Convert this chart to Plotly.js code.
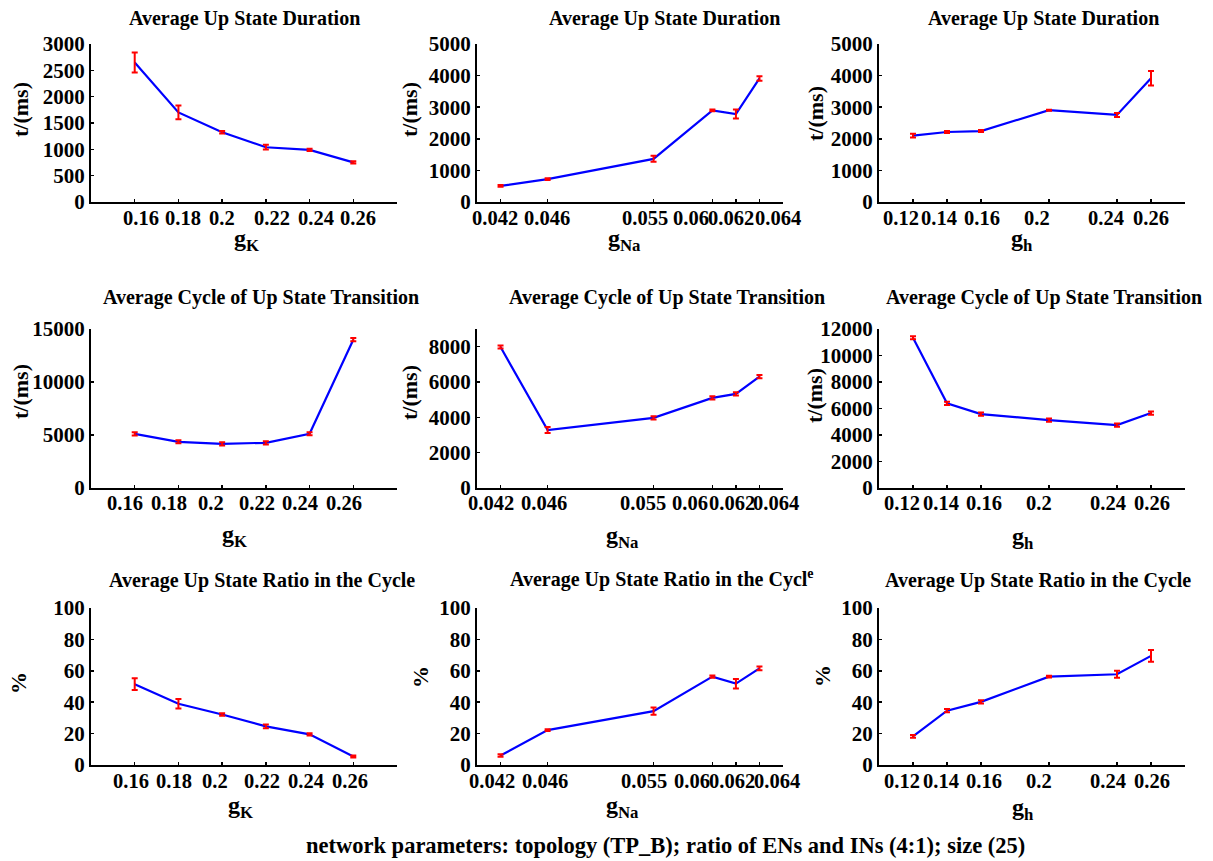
<!DOCTYPE html>
<html>
<head>
<meta charset="utf-8">
<script src="https://cdn.plot.ly/plotly-3.0.1.min.js"></script>
<style>
  html, body { margin: 0; padding: 0; background: #ffffff; }
  #chart { width: 1213px; height: 861px; }
</style>
</head>
<body>
<div id="chart"></div>
<script>
// ---- Parameter values (x categories) ----
const gK = [0.16, 0.18, 0.2, 0.22, 0.24, 0.26];
const gKLabels = ['0.16', '0.18', '0.2', '0.22', '0.24', '0.26'];
const gNa = [0.042, 0.046, 0.055, 0.06, 0.062, 0.064];
const gNaLabels = ['0.042', '0.046', '0.055', '0.06', '0.062', '0.064'];
const gh = [0.12, 0.14, 0.16, 0.2, 0.24, 0.26];
const ghLabels = ['0.12', '0.14', '0.16', '0.2', '0.24', '0.26'];

// ---- Average Up State Duration (ms) ----
const durK = [2650, 1700, 1325, 1040, 990, 752];
const durKErr = [190, 130, 25, 45, 20, 20];
const durNa = [510, 725, 1365, 2900, 2785, 3910];
const durNaErr = [25, 30, 95, 25, 140, 70];
const durH = [2100, 2215, 2245, 2905, 2755, 3915];
const durHErr = [60, 35, 30, 15, 65, 230];

// ---- Average Cycle of Up State Transition (ms) ----
const cycK = [5100, 4360, 4170, 4265, 5120, 13990];
const cycKErr = [150, 150, 150, 150, 150, 150];
const cycNa = [7980, 3280, 3970, 5100, 5330, 6300];
const cycNaErr = [90, 170, 90, 90, 90, 90];
const cycH = [11340, 6390, 5580, 5125, 4746, 5656];
const cycHErr = [120, 120, 120, 120, 120, 120];

// ---- Average Up State Ratio in the Cycle (%) ----
const ratK = [51.5, 39, 32.2, 24.6, 19.5, 5.4];
const ratKErr = [3.8, 3, 0.8, 1.2, 0.7, 0.7];
const ratNa = [6, 22.2, 34.3, 56.3, 51.8, 61.5];
const ratNaErr = [0.8, 0.6, 2.3, 0.7, 3, 1.2];
const ratH = [18.2, 34.6, 40.2, 56.3, 57.8, 69.5];
const ratHErr = [0.9, 1, 1, 0.6, 2.2, 3.8];

const W = 1213, H = 861;
const px = v => v / W;
const py = v => 1 - v / H;
const FONT = 'Liberation Serif, Times New Roman, serif';

const panels = [
  {x: gK, y: durK, e: durKErr},
  {x: gNa, y: durNa, e: durNaErr},
  {x: gh, y: durH, e: durHErr},
  {x: gK, y: cycK, e: cycKErr},
  {x: gNa, y: cycNa, e: cycNaErr},
  {x: gh, y: cycH, e: cycHErr},
  {x: gK, y: ratK, e: ratKErr},
  {x: gNa, y: ratNa, e: ratNaErr},
  {x: gh, y: ratH, e: ratHErr}
];

const traces = [];
panels.forEach((p, i) => {
  const sfx = i === 0 ? '' : String(i + 1);
  traces.push({
    x: p.x, y: p.y, type: 'scatter', mode: 'lines',
    xaxis: 'x' + sfx, yaxis: 'y' + sfx,
    line: {color: '#0000ff', width: 2.2},
    showlegend: false, hoverinfo: 'skip'
  });
  traces.push({
    x: p.x, y: p.y, type: 'scatter', mode: 'markers',
    xaxis: 'x' + sfx, yaxis: 'y' + sfx,
    marker: {size: 1, color: 'rgba(0,0,0,0)'},
    error_y: {type: 'data', array: p.e, visible: true, color: '#ff0000', thickness: 2, width: 3},
    showlegend: false, hoverinfo: 'skip'
  });
});

// ---- layout geometry ----
const xDom = [[px(91), px(397)], [px(477), px(783)], [px(879), px(1185)]];
const yDom = [[py(202), py(44)], [py(488), py(329)], [py(765), py(608)]];
const xRanges = [[0.14, 0.28], [0.040, 0.066], [0.10, 0.28]];
const xTicks = [[gK, gKLabels], [gNa, gNaLabels], [gh, ghLabels]];
const yRanges = [[0, 3000], [0, 5000], [0, 5000], [0, 15000], [0, 9000], [0, 12000], [0, 100], [0, 100], [0, 100]];
const yDticks = [500, 1000, 1000, 5000, 2000, 2000, 20, 20, 20];
// pixel shifts of x tick labels relative to their tick marks (as in the original figure)
const labelShift = [
  [6, 5, 0, 6, 6, 5],
  [-6, -1, -9, -21, -5, 19],
  [-12, -8, 1, -12, -11, 0],
  [-10, -9, -11, -9, -10, -9],
  [-10, -4, -11, -22, -4, 17],
  [-11, -6, 3, -10, -9, 1],
  [-4, -4, -7, -4, -4, -3],
  [-9, -3, -10, -20, -4, 18],
  [-11, -6, 3, -10, -9, 1]
];
const labelRowY = [218, 503, 781];

const layout = {
  width: W, height: H,
  margin: {l: 0, r: 0, t: 0, b: 0},
  paper_bgcolor: '#ffffff', plot_bgcolor: '#ffffff',
  font: {family: FONT, size: 18, color: '#000000', weight: 'bold'},
  showlegend: false,
  annotations: []
};

for (let i = 0; i < 9; i++) {
  const sfx = i === 0 ? '' : String(i + 1);
  const col = i % 3, row = Math.floor(i / 3);
  layout['xaxis' + sfx] = {
    domain: xDom[col], range: xRanges[col], anchor: 'y' + sfx,
    tickmode: 'array', tickvals: xTicks[col][0], ticktext: xTicks[col][1],
    showticklabels: false,
    showline: true, linecolor: '#000000', linewidth: 2,
    ticks: 'inside', ticklen: 3, tickwidth: 1.5, tickcolor: '#000000',
    showgrid: false, zeroline: false, fixedrange: true
  };
  layout['yaxis' + sfx] = {
    domain: yDom[row], range: yRanges[i], anchor: 'x' + sfx,
    tickmode: 'linear', tick0: 0, dtick: yDticks[i],
    tickformat: 'd', exponentformat: 'none',
    showline: true, linecolor: '#000000', linewidth: 2,
    ticks: 'inside', ticklen: 3, tickwidth: 1.5, tickcolor: '#000000',
    showgrid: false, zeroline: false,
    tickfont: {family: FONT, size: 21, weight: 'bold', color: '#000000'}, fixedrange: true
  };
  // x tick labels, placed from the axis scale
  const vals = xTicks[col][0], labs = xTicks[col][1];
  vals.forEach((v, k) => {
    layout.annotations.push({
      text: labs[k], xref: 'x' + sfx, yref: 'paper', x: v, y: py(labelRowY[row]),
      xshift: labelShift[i][k],
      xanchor: 'center', yanchor: 'middle', showarrow: false,
      font: {size: 20.5, weight: 'bold', color: '#000000', family: FONT}
    });
  });
}

function ann(text, x, y, size, angle) {
  layout.annotations.push({
    text: text, xref: 'paper', yref: 'paper', x: px(x), y: py(y),
    xanchor: 'center', yanchor: 'middle', showarrow: false,
    textangle: angle || 0,
    font: {size: size, weight: 'bold', color: '#000000', family: FONT}
  });
}

// Panel titles
ann('Average Up State Duration', 244, 18, 20);
ann('Average Up State Duration', 664, 18, 20);
ann('Average Up State Duration', 1043, 18, 20);
ann('Average Cycle of Up State Transition', 261, 297, 20);
ann('Average Cycle of Up State Transition', 667, 297, 20);
ann('Average Cycle of Up State Transition', 1044, 297, 20);
ann('Average Up State Ratio in the Cycle', 262, 580, 20);
ann('Average Up State Ratio in the Cycl<sup>e</sup>', 662, 578, 20);
ann('Average Up State Ratio in the Cycle', 1038, 580, 20);

// x-axis titles
ann('g<sub>K</sub>', 246, 240, 24);
ann('g<sub>Na</sub>', 624, 240, 24);
ann('g<sub>h</sub>', 1022, 240, 24);
ann('g<sub>K</sub>', 234, 536, 24);
ann('g<sub>Na</sub>', 622, 537, 24);
ann('g<sub>h</sub>', 1023, 538, 24);
ann('g<sub>K</sub>', 240, 807, 24);
ann('g<sub>Na</sub>', 622, 807, 24);
ann('g<sub>h</sub>', 1023, 809, 24);

// y-axis titles
ann('t/(ms)', 20, 110, 22, -90);
ann('t/(ms)', 409, 110, 22, -90);
ann('t/(ms)', 815, 114, 22, -90);
ann('t/(ms)', 20, 392, 22, -90);
ann('t/(ms)', 409, 393, 22, -90);
ann('t/(ms)', 814, 396, 22, -90);
ann('%', 18, 683, 22, -90);
ann('%', 420, 677, 22, -90);
ann('%', 822, 676, 22, -90);

// Caption
ann('network parameters: topology (TP_B); ratio of ENs and INs (4:1); size (25)', 665, 845, 22.5);

Plotly.newPlot('chart', traces, layout, {staticPlot: true, displayModeBar: false});
</script>
</body>
</html>
